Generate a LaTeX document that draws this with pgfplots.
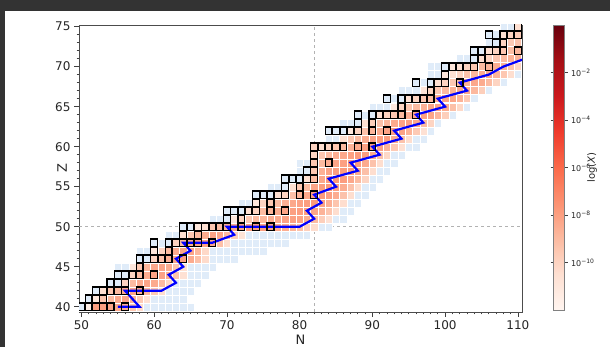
\documentclass[border=0pt]{standalone}
\usepackage{pgfplots}
\pgfplotsset{compat=1.18}
\usepackage{fontspec}
\setmainfont{DejaVu Sans}
\definecolor{bgdark}{HTML}{333333}
\definecolor{lblue}{RGB}{224,236,249}
\pgfdeclareplotmark{cell}{\pgfpathrectangle{\pgfpoint{-3.635pt}{-4pt}}{\pgfpoint{7.27pt}{8pt}}\pgfusepathqfillstroke}
\pgfdeclareplotmark{cellbox}{\pgfpathrectangle{\pgfpoint{-3.4pt}{-3.75pt}}{\pgfpoint{6.8pt}{7.5pt}}\pgfusepathqstroke}
\begin{document}
\begin{tikzpicture}[x=1pt,y=1pt]
\fill[bgdark] (0,0) rectangle (610,347);
\fill[white] (5,0) rectangle (610,336);
\begin{axis}[
 at={(79pt,35pt)}, anchor=south west, scale only axis, width=443pt, height=287pt,
 xmin=49.67, xmax=110.57, ymin=39.35, ymax=75.2,
 xtick={50,60,...,110}, ytick={40,45,...,75},
 minor x tick num=9, minor y tick num=4,
 tick align=outside, xtick pos=bottom, ytick pos=left,
 major tick length=5pt, minor tick length=2.5pt,
 every tick/.style={black!75, line width=0.7pt},
 axis line style={black!70, line width=0.8pt},
 ticklabel style={font=\fontsize{12}{14}\selectfont, text=black!85},
 /pgf/number format/assume math mode=true,
 xlabel={N}, ylabel={Z},
 xlabel style={at={(axis description cs:0.5,-0.098)}, anchor=center, font=\fontsize{13}{15}\selectfont, text=black!85},
 ylabel style={at={(axis description cs:-0.038,0.5)}, anchor=center, font=\fontsize{13}{15}\selectfont, text=black!85},
 clip marker paths=true,
 colormap={reds}{rgb255(0)=(255,245,240) rgb255(1)=(254,224,210) rgb255(2)=(252,187,161) rgb255(3)=(252,146,114) rgb255(4)=(251,106,74) rgb255(5)=(239,59,44) rgb255(6)=(203,24,29) rgb255(7)=(165,15,21) rgb255(8)=(103,0,13)},
 point meta min=-12, point meta max=0,
 colorbar,
 colorbar style={at={(parent axis.north east)}, anchor=north west, xshift=23pt,
   width=11pt, height=285pt,
   ytick={-10,-8,-6,-4,-2},
   yticklabels={10\textsuperscript{−10},10\textsuperscript{−8},10\textsuperscript{−6},10\textsuperscript{−4},10\textsuperscript{−2}},
   yticklabel style={font=\fontsize{8}{9}\selectfont, text=black!85},
   major tick length=3pt, tick align=outside, yticklabel pos=right,
   every tick/.style={black!75, line width=0.5pt},
   axis line style={black!50, line width=0.5pt},
   ylabel={log(\textit{X})},
   ylabel style={at={(axis description cs:3.5,0.5)}, anchor=center, font=\fontsize{10}{12}\selectfont, text=black!85}},
]
\draw[black!30, dashed, line width=0.5pt] (axis cs:82,39.35) -- (axis cs:82,75.2);
\draw[black!30, dashed, line width=0.5pt] (axis cs:49.67,50) -- (axis cs:110.57,50);
% light blue cells
\addplot[only marks, mark=cell, mark options={fill=lblue, draw=white, line width=0.3pt}] table[row sep=\\] {
N Z\\
50 40\\ 59 40\\ 60 40\\ 61 40\\ 62 40\\ 63 40\\ 64 40\\ 65 40\\
51 41\\ 60 41\\ 61 41\\ 62 41\\ 63 41\\ 64 41\\
52 42\\ 62 42\\ 63 42\\ 64 42\\ 65 42\\
54 43\\ 55 43\\ 63 43\\ 64 43\\ 65 43\\ 66 43\\
55 44\\ 56 44\\ 65 44\\ 66 44\\ 67 44\\
55 45\\ 56 45\\ 65 45\\ 66 45\\ 67 45\\ 68 45\\
58 46\\ 59 46\\ 68 46\\ 69 46\\ 70 46\\ 71 46\\
58 47\\ 59 47\\ 68 47\\ 69 47\\ 70 47\\ 71 47\\ 72 47\\ 73 47\\ 74 47\\ 75 47\\
60 48\\ 61 48\\ 62 48\\ 71 48\\ 72 48\\ 73 48\\ 74 48\\ 75 48\\ 76 48\\ 77 48\\ 78 48\\
62 49\\ 63 49\\ 73 49\\ 74 49\\ 75 49\\ 76 49\\ 77 49\\ 78 49\\ 79 49\\ 80 49\\ 81 49\\
64 50\\ 65 50\\ 83 50\\ 84 50\\
68 51\\ 69 51\\ 70 51\\ 85 51\\ 86 51\\
70 52\\ 71 52\\ 72 52\\ 86 52\\ 87 52\\
72 53\\ 73 53\\ 87 53\\ 88 53\\
74 54\\ 75 54\\ 76 54\\ 88 54\\ 89 54\\
76 55\\ 77 55\\ 78 55\\ 89 55\\ 90 55\\
78 56\\ 79 56\\ 80 56\\ 90 56\\ 91 56\\
80 57\\ 81 57\\ 91 57\\ 92 57\\
80 58\\ 81 58\\ 92 58\\ 93 58\\
93 59\\ 94 59\\
95 60\\ 96 60\\
84 61\\ 85 61\\ 96 61\\ 97 61\\
84 62\\ 85 62\\ 86 62\\ 98 62\\
86 63\\ 87 63\\ 88 63\\ 99 63\\
88 64\\ 89 64\\ 90 64\\ 101 64\\
90 65\\ 91 65\\ 92 65\\ 103 65\\
92 66\\ 93 66\\ 94 66\\ 104 66\\
94 67\\ 95 67\\ 96 67\\ 106 67\\
96 68\\ 97 68\\ 98 68\\ 108 68\\
98 69\\ 99 69\\ 110 69\\
98 70\\ 99 70\\ 100 70\\
102 71\\ 103 71\\ 104 71\\
104 72\\ 105 72\\
106 73\\ 107 73\\
106 74\\ 107 74\\
108 75\\ 109 75\\
};
% abundance cells
\addplot[scatter, only marks, mark=cell, point meta=explicit,
  scatter/use mapped color={draw=white, fill=mapped color}, mark options={line width=0.3pt}]
 table[row sep=\\, meta=c] {
N Z c\\
51 40 -11.5\\ 52 40 -8\\ 53 40 -8\\ 54 40 -8.2\\ 55 40 -8.3\\ 56 40 -8.5\\ 57 40 -9.5\\ 58 40 -10.3\\
52 41 -11\\ 53 41 -9.5\\ 54 41 -9\\ 55 41 -8.3\\ 56 41 -8.2\\ 57 41 -8.6\\ 58 41 -9.6\\ 59 41 -10.6\\
53 42 -10.5\\ 54 42 -9.5\\ 55 42 -9\\ 56 42 -8.3\\ 57 42 -8.2\\ 58 42 -8.4\\ 59 42 -8.8\\ 60 42 -9.6\\ 61 42 -10.4\\
56 43 -10\\ 57 43 -9\\ 58 43 -8.4\\ 59 43 -8.2\\ 60 43 -8.4\\ 61 43 -9\\ 62 43 -10.2\\
57 44 -10\\ 58 44 -9\\ 59 44 -8.4\\ 60 44 -8.1\\ 61 44 -8.1\\ 62 44 -8.5\\ 63 44 -9.4\\ 64 44 -10.6\\
57 45 -11\\ 58 45 -9.5\\ 59 45 -8.8\\ 60 45 -8.3\\ 61 45 -8.2\\ 62 45 -8.5\\ 63 45 -9.4\\ 64 45 -10.5\\
60 46 -10\\ 61 46 -9.3\\ 62 46 -8.6\\ 63 46 -8.2\\ 64 46 -8\\ 65 46 -8.4\\ 66 46 -9.2\\ 67 46 -10.3\\
60 47 -11\\ 61 47 -10\\ 62 47 -9\\ 63 47 -8.5\\ 64 47 -8.2\\ 65 47 -8.2\\ 66 47 -8.9\\ 67 47 -10.2\\
63 48 -10\\ 64 48 -9\\ 65 48 -8.4\\ 66 48 -8.1\\ 67 48 -8\\ 68 48 -8.2\\ 69 48 -9.2\\ 70 48 -10.4\\
64 49 -10.5\\ 65 49 -9.5\\ 66 49 -8.9\\ 67 49 -8.4\\ 68 49 -8.1\\ 69 49 -8.2\\ 70 49 -8.9\\ 71 49 -9.8\\ 72 49 -10.7\\
66 50 -11\\ 67 50 -10.5\\ 68 50 -9.5\\ 69 50 -9\\ 70 50 -8.5\\ 71 50 -8.2\\ 72 50 -8\\ 73 50 -7.9\\ 74 50 -7.9\\ 75 50 -8\\ 76 50 -8.1\\ 77 50 -8.3\\ 78 50 -8.5\\ 79 50 -8.8\\ 80 50 -9.2\\ 81 50 -9.8\\ 82 50 -10.4\\
71 51 -11\\ 72 51 -10\\ 73 51 -9.5\\ 74 51 -9\\ 75 51 -8.8\\ 76 51 -8.5\\ 77 51 -8.3\\ 78 51 -8.1\\ 79 51 -8\\ 80 51 -8.1\\ 81 51 -8.5\\ 82 51 -9\\ 83 51 -9.8\\ 84 51 -10.6\\
73 52 -10.5\\ 74 52 -10\\ 75 52 -9\\ 76 52 -8.7\\ 77 52 -8.4\\ 78 52 -8.2\\ 79 52 -8\\ 80 52 -7.9\\ 81 52 -7.9\\ 82 52 -8.2\\ 83 52 -8.7\\ 84 52 -9.4\\ 85 52 -10.4\\
74 53 -11\\ 75 53 -10\\ 76 53 -9.5\\ 77 53 -9\\ 78 53 -8.6\\ 79 53 -8.3\\ 80 53 -8.1\\ 81 53 -7.9\\ 82 53 -7.8\\ 83 53 -8.1\\ 84 53 -8.6\\ 85 53 -9.4\\ 86 53 -10.4\\
77 54 -10.5\\ 78 54 -10\\ 79 54 -9.2\\ 80 54 -8.7\\ 81 54 -8.3\\ 82 54 -7.9\\ 83 54 -7.8\\ 84 54 -8\\ 85 54 -8.5\\ 86 54 -9.3\\ 87 54 -10.4\\
79 55 -10.5\\ 80 55 -9.5\\ 81 55 -9\\ 82 55 -8.2\\ 83 55 -7.9\\ 84 55 -7.8\\ 85 55 -8\\ 86 55 -8.5\\ 87 55 -9.3\\ 88 55 -10.4\\
81 56 -10.5\\ 82 56 -9\\ 83 56 -8.3\\ 84 56 -7.9\\ 85 56 -7.8\\ 86 56 -7.9\\ 87 56 -8.3\\ 88 56 -9\\ 89 56 -10\\
82 57 -9.5\\ 83 57 -8.6\\ 84 57 -8.2\\ 85 57 -8\\ 86 57 -7.8\\ 87 57 -7.9\\ 88 57 -8.4\\ 89 57 -9.2\\ 90 57 -10.4\\
82 58 -9.5\\ 83 58 -9\\ 84 58 -8.5\\ 85 58 -8.2\\ 86 58 -8\\ 87 58 -7.8\\ 88 58 -7.9\\ 89 58 -8.4\\ 90 58 -9.3\\ 91 58 -10.4\\
82 59 -10\\ 83 59 -9.5\\ 84 59 -9\\ 85 59 -8.5\\ 86 59 -8.3\\ 87 59 -8\\ 88 59 -7.8\\ 89 59 -7.9\\ 90 59 -8.4\\ 91 59 -9.2\\ 92 59 -10.2\\
82 60 -10\\ 83 60 -10.5\\ 84 60 -10\\ 85 60 -9.5\\ 86 60 -9\\ 87 60 -8.6\\ 88 60 -8.3\\ 89 60 -8\\ 90 60 -7.9\\ 91 60 -8.1\\ 92 60 -8.7\\ 93 60 -9.6\\ 94 60 -10.6\\
86 61 -10.5\\ 87 61 -9.5\\ 88 61 -9\\ 89 61 -8.5\\ 90 61 -8.2\\ 91 61 -7.9\\ 92 61 -7.9\\ 93 61 -8.4\\ 94 61 -9.3\\ 95 61 -10.4\\
87 62 -11\\ 88 62 -10\\ 89 62 -9.3\\ 90 62 -8.8\\ 91 62 -8.4\\ 92 62 -8.1\\ 93 62 -7.9\\ 94 62 -8.1\\ 95 62 -8.7\\ 96 62 -9.6\\ 97 62 -10.6\\
89 63 -10.5\\ 90 63 -9.8\\ 91 63 -9.2\\ 92 63 -8.8\\ 93 63 -8.4\\ 94 63 -8.1\\ 95 63 -8\\ 96 63 -8.3\\ 97 63 -9\\ 98 63 -10\\
91 64 -10.5\\ 92 64 -10\\ 93 64 -9.5\\ 94 64 -9\\ 95 64 -8.6\\ 96 64 -8.2\\ 97 64 -8\\ 98 64 -8.2\\ 99 64 -8.8\\ 100 64 -9.8\\
93 65 -11\\ 94 65 -10\\ 95 65 -9.4\\ 96 65 -9\\ 97 65 -8.6\\ 98 65 -8.2\\ 99 65 -8.1\\ 100 65 -8.4\\ 101 65 -9.2\\ 102 65 -10.2\\
95 66 -10.5\\ 96 66 -10\\ 97 66 -9.5\\ 98 66 -9\\ 99 66 -8.5\\ 100 66 -8.2\\ 101 66 -8.2\\ 102 66 -8.7\\ 103 66 -9.6\\
97 67 -10.8\\ 98 67 -10\\ 99 67 -9.5\\ 100 67 -9\\ 101 67 -8.6\\ 102 67 -8.3\\ 103 67 -8.3\\ 104 67 -8.9\\ 105 67 -9.8\\
99 68 -10.5\\ 100 68 -10\\ 101 68 -9.5\\ 102 68 -9\\ 103 68 -8.6\\ 104 68 -8.3\\ 105 68 -8.4\\ 106 68 -9\\ 107 68 -10\\
100 69 -11\\ 101 69 -10.5\\ 102 69 -10\\ 103 69 -9.3\\ 104 69 -8.9\\ 105 69 -8.5\\ 106 69 -8.4\\ 107 69 -8.7\\ 108 69 -9.5\\ 109 69 -10.4\\
101 70 -11\\ 102 70 -10.5\\ 103 70 -10\\ 104 70 -9.5\\ 105 70 -9\\ 106 70 -8.7\\ 107 70 -8.5\\ 108 70 -8.7\\ 109 70 -9.3\\ 110 70 -10.1\\
105 71 -10.5\\ 106 71 -10\\ 107 71 -9.5\\ 108 71 -9\\ 109 71 -8.7\\ 110 71 -8.7\\
106 72 -10.5\\ 107 72 -10\\ 108 72 -9.5\\ 109 72 -9.1\\ 110 72 -8.9\\
108 73 -10\\ 109 73 -9.6\\ 110 73 -9.3\\
108 74 -10.5\\ 109 74 -10\\ 110 74 -9.7\\
110 75 -10.5\\
};
% r-process path
\addplot[blue, line width=2.2pt, line join=miter, mark=none] coordinates {
(55,40) (58,40) (56,42) (61,42) (63,43) (62,44) (64,45) (63,46) (65,47) (64,48) (68,48) (71,49) (70,50) (80,50)
(82,51) (81,52) (83,53) (82,54) (85,55) (84,56) (88,57) (87,58) (91,59) (90,60) (94,61) (93,62)
(97,63) (96,64) (100,65) (99,66) (103,67) (102,68) (106,69) (108,70) (111,71)
};
% stable / long-lived nuclei
\addplot[only marks, mark=cellbox, mark options={draw=black, line width=1.3pt}] table[row sep=\\] {
N Z\\
50 40\\ 51 40\\ 52 40\\ 53 40\\ 54 40\\ 56 40\\
51 41\\ 52 41\\ 53 41\\
52 42\\ 53 42\\ 54 42\\ 55 42\\ 56 42\\ 58 42\\
54 43\\ 55 43\\ 56 43\\
55 44\\ 56 44\\ 57 44\\ 58 44\\ 60 44\\
58 45\\
58 46\\ 59 46\\ 60 46\\ 61 46\\ 62 46\\ 64 46\\
60 47\\ 62 47\\
60 48\\ 62 48\\ 63 48\\ 64 48\\ 65 48\\ 66 48\\ 68 48\\
64 49\\ 66 49\\
64 50\\ 65 50\\ 66 50\\ 67 50\\ 68 50\\ 69 50\\ 70 50\\ 72 50\\ 74 50\\ 76 50\\
70 51\\ 72 51\\
70 52\\ 71 52\\ 72 52\\ 73 52\\ 74 52\\ 76 52\\ 78 52\\
74 53\\ 76 53\\
74 54\\ 75 54\\ 76 54\\ 77 54\\ 78 54\\ 80 54\\ 82 54\\
78 55\\ 80 55\\
78 56\\ 79 56\\ 80 56\\ 81 56\\ 82 56\\
81 57\\ 82 57\\
82 58\\ 84 58\\
82 59\\
82 60\\ 83 60\\ 84 60\\ 85 60\\ 86 60\\ 88 60\\ 90 60\\
84 62\\ 85 62\\ 86 62\\ 87 62\\ 88 62\\ 90 62\\ 92 62\\
88 63\\ 90 63\\
88 64\\ 90 64\\ 91 64\\ 92 64\\ 93 64\\ 94 64\\ 96 64\\
94 65\\
92 66\\ 94 66\\ 95 66\\ 96 66\\ 97 66\\ 98 66\\
98 67\\
96 68\\ 98 68\\ 99 68\\ 100 68\\ 102 68\\
100 69\\
100 70\\ 101 70\\ 102 70\\ 103 70\\ 104 70\\ 106 70\\
104 71\\ 105 71\\
104 72\\ 105 72\\ 106 72\\ 107 72\\ 108 72\\ 110 72\\
107 73\\ 108 73\\
106 74\\ 108 74\\ 109 74\\ 110 74\\
110 75\\
};
\end{axis}
\pgfresetboundingbox
\useasboundingbox (0,0) rectangle (610,347);
\end{tikzpicture}
\end{document}
